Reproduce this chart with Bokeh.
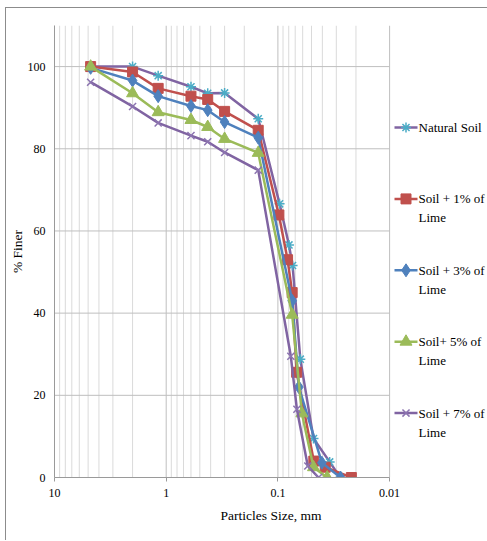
import numpy as np
from bokeh.plotting import figure
from bokeh.models import Range1d, FixedTicker, CustomJSTickFormatter
from bokeh.core.properties import value
from bokeh.embed import file_html
from bokeh.resources import INLINE

# ---- data ----
natural_x = [4.75, 2.0, 1.18, 0.6, 0.425, 0.3, 0.15, 0.0966, 0.0796, 0.0739, 0.063, 0.048, 0.0344, 0.0277]
natural_y = [100, 100, 97.8, 95.1, 93.5, 93.6, 87.3, 66.6, 56.6, 51.6, 28.8, 9.5, 3.8, 0]

lime1_x = [4.75, 2.0, 1.18, 0.6, 0.425, 0.3, 0.15, 0.098, 0.0819, 0.0745, 0.068, 0.0477, 0.0377, 0.022]
lime1_y = [100, 98.7, 94.7, 92.8, 92.0, 89.1, 84.5, 63.9, 53.0, 45.0, 25.6, 4.0, 2.5, 0]

lime3_x = [4.75, 2.0, 1.18, 0.6, 0.425, 0.3, 0.15, 0.0745, 0.0650, 0.0404, 0.0275]
lime3_y = [99.7, 96.6, 92.8, 90.4, 89.4, 86.5, 82.7, 43.0, 22.0, 3.6, 0]

lime5_x = [4.75, 2.0, 1.18, 0.6, 0.425, 0.3, 0.15, 0.0745, 0.061, 0.048, 0.0362]
lime5_y = [100, 93.5, 88.9, 87.0, 85.3, 82.4, 79.0, 39.6, 15.6, 2.5, 0]

lime7_x = [4.75, 2.0, 1.18, 0.6, 0.425, 0.3, 0.15, 0.0766, 0.0676, 0.054, 0.0433]
lime7_y = [96.2, 90.3, 86.3, 83.2, 81.7, 79.1, 74.8, 29.5, 16.6, 2.8, 0]

x_ticks = [10, 1, 0.1, 0.01]
y_ticks = [0, 20, 40, 60, 80, 100]
y_max = 110
legend_first = ["Natural Soil", "Soil + 1% of", "Soil + 3% of", "Soil+ 5% of", "Soil + 7% of"]
legend_second = ["", "Lime", "Lime", "Lime", "Lime"]

FONT = "Liberation Serif"
TXT = "#000000"

# ---- geometry (pixels) ----
FRAME_W, FRAME_H = 433, 452
LEFT, TOP, BOTTOM = 46, 17, 63
DECADE_PX = 111.7
decades_shown = FRAME_W / DECADE_PX
x_end = x_ticks[0] * 10 ** (-decades_shown)
PX_PER_Y = FRAME_H / y_max

def xpx(px):
    """data x for a horizontal pixel offset from the frame's left edge"""
    return x_ticks[0] * 10 ** (-px / DECADE_PX)

def ypx(px):
    """data y for a vertical pixel offset from the frame's top edge"""
    return y_max - px / PX_PER_Y

p = figure(frame_width=FRAME_W, frame_height=FRAME_H,
           min_border_left=LEFT, min_border_right=0, min_border_top=TOP, min_border_bottom=BOTTOM,
           x_axis_type="log", x_range=Range1d(x_ticks[0], x_end), y_range=Range1d(0, y_max),
           output_backend="svg", toolbar_location=None,
           x_axis_label="Particles Size, mm", y_axis_label="% Finer")
p.styles = {"border-left": "1px solid #8C8C8C", "border-top": "1px solid #8C8C8C",
            "margin-left": "5px", "margin-top": "7px"}
p.outline_line_color = None
p.background_fill_color = "white"
p.border_fill_color = "white"
p.xgrid.visible = False
p.ygrid.visible = False

# ---- grid lines drawn within the axis span ----
minor = []
for d in x_ticks[1:]:
    for m in range(2, 10):
        minor.append(d * m)
p.segment(x0=minor, x1=minor, y0=[0] * len(minor), y1=[y_max] * len(minor),
          line_color="#DADADA", line_width=1)
p.segment(x0=x_ticks, x1=x_ticks, y0=[0] * len(x_ticks), y1=[y_max] * len(x_ticks),
          line_color="#BFBFBF", line_width=1)
p.segment(x0=[x_ticks[0]] * len(y_ticks), x1=[x_ticks[-1]] * len(y_ticks), y0=y_ticks, y1=y_ticks,
          line_color="#BFBFBF", line_width=1)

p.xaxis.ticker = FixedTicker(ticks=x_ticks, minor_ticks=[])
p.xaxis.formatter = CustomJSTickFormatter(code="return String(tick);")
p.xaxis.bounds = (x_ticks[-1], x_ticks[0])
p.yaxis.ticker = FixedTicker(ticks=y_ticks)

for ax in (p.xaxis[0], p.yaxis[0]):
    ax.axis_line_color = "#9A9A9A"
    ax.major_tick_line_color = "#9A9A9A"
    ax.minor_tick_out = 0
    ax.minor_tick_in = 0
    ax.major_tick_in = 0
    ax.major_label_text_font = FONT
    ax.major_label_text_font_size = "12px"
    ax.major_label_text_color = TXT
    ax.axis_label_text_font = FONT
    ax.axis_label_text_font_size = "13.5px"
    ax.axis_label_text_font_style = "normal"
    ax.axis_label_text_color = TXT

p.xaxis.major_tick_out = 4
p.xaxis.major_label_standoff = 7
p.xaxis.axis_label_standoff = 8
p.yaxis.major_tick_out = 0
p.yaxis.major_label_standoff = 9
p.yaxis.axis_label_standoff = 0

LW = 2.5
series = [
    (natural_x, natural_y, "#8064A2", dict(marker="asterisk", size=10, line_color="#4BACC6", line_width=1.5)),
    (lime1_x, lime1_y, "#C0504D", dict(marker="square", size=10, fill_color="#C0504D", line_color="#C0504D")),
    (lime3_x, lime3_y, "#4F81BD", dict(marker="diamond", size=13, fill_color="#4F81BD", line_color="#4F81BD")),
    (lime5_x, lime5_y, "#9BBB59", dict(marker="triangle", size=12, fill_color="#9BBB59", line_color="#9BBB59")),
    (lime7_x, lime7_y, "#8064A2", dict(marker="x", size=10, line_color="#8C74B0", line_width=1.5)),
]
for xs, ys, col, mk in series:
    p.line(xs, ys, line_color=col, line_width=LW)
    p.scatter(xs, ys, **mk)

# ---- legend (drawn to the right of the axis span) ----
G0, G1, T0 = 340, 363, 364          # glyph start/end and text start, px from frame left
FIRST0, STEP, SECOND_GAP = 102, 71.4, 19   # px from frame top
for i, (xs, ys, col, mk) in enumerate(series):
    yy = ypx(FIRST0 + STEP * i)
    p.line([xpx(G0), xpx(G1)], [yy, yy], line_color=col, line_width=LW)
    p.scatter([xpx((G0 + G1) / 2)], [yy], **mk)
    p.text([xpx(T0)], [yy], text=[legend_first[i]], text_font=value(FONT),
           text_font_size="13px", text_color=TXT, text_baseline="middle", text_align="left")
    if legend_second[i]:
        y2 = ypx(FIRST0 + STEP * i + SECOND_GAP)
        p.text([xpx(T0)], [y2], text=[legend_second[i]], text_font=value(FONT),
               text_font_size="13px", text_color=TXT, text_baseline="middle", text_align="left")

open("out.html", "w").write(file_html(p, INLINE))
